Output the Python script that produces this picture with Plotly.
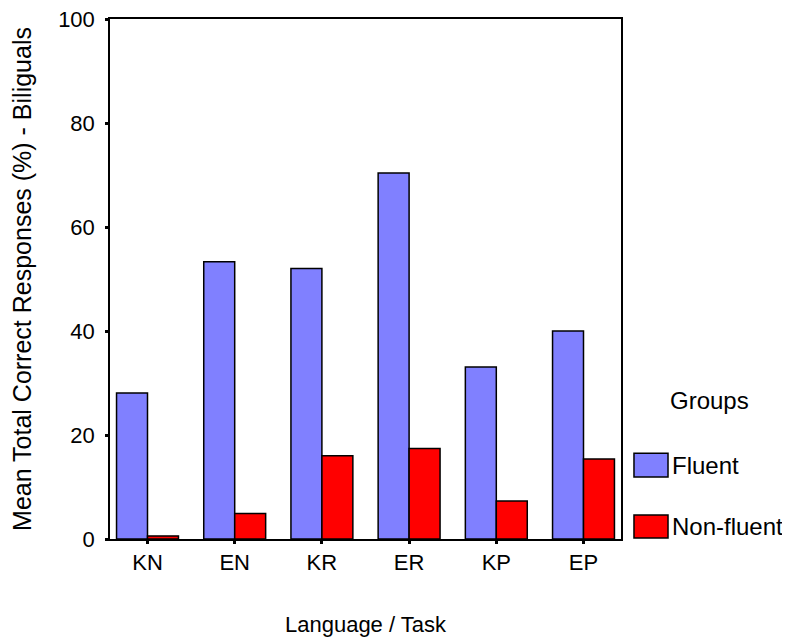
import plotly.graph_objects as go

categories = ["KN", "EN", "KR", "ER", "KP", "EP"]
fluent = [28.1, 53.3, 52.0, 70.4, 33.1, 40.0]
non_fluent = [0.6, 4.9, 16.0, 17.4, 7.3, 15.4]
series_names = ["Fluent", "Non-fluent"]
series_colors = ["#8080FF", "#FF0000"]
y_ticks = [0, 20, 40, 60, 80, 100]

FONT = "Liberation Sans, Arial, sans-serif"

fig = go.Figure()
for name, vals, col in zip(series_names, [fluent, non_fluent], series_colors):
    fig.add_trace(go.Bar(
        x=categories, y=vals, name=name,
        marker=dict(color=col, line=dict(color="black", width=1.5)),
        showlegend=False,
    ))

# custom legend (paper coords)
legend_rows = [(0.165, 0.119), (0.046, 0.002)]
for (y1, y0), name, col in zip(legend_rows, series_names, series_colors):
    fig.add_shape(type="rect", xref="paper", yref="paper",
                  x0=1.0254, x1=1.092, y0=y0, y1=y1,
                  fillcolor=col, line=dict(color="black", width=1.5))
    fig.add_annotation(xref="paper", yref="paper", x=1.096, y=(y0 + y1) / 2,
                       text=name, showarrow=False, xanchor="left", yanchor="middle",
                       font=dict(family=FONT, size=24, color="black"))
fig.add_annotation(xref="paper", yref="paper", x=1.174, y=0.267,
                   text="Groups", showarrow=False, xanchor="center", yanchor="middle",
                   font=dict(family=FONT, size=24, color="black"))

fig.update_layout(
    width=790, height=638,
    margin=dict(l=102, r=177, t=11, b=107),
    plot_bgcolor="white", paper_bgcolor="white",
    barmode="group", bargap=0.29, bargroupgap=0,
    font=dict(family=FONT, size=22, color="black"),
)
fig.update_xaxes(
    range=[-0.43, 5.43], automargin="bottom",
    showline=True, linecolor="black", linewidth=1.5, mirror=True,
    ticks="outside", ticklen=3, tickwidth=3, tickcolor="black",
    showgrid=False,
    title=dict(text="Language / Task", standoff=42, font=dict(size=22)),
    tickfont=dict(size=22),
)
fig.update_yaxes(
    range=[0, 100], tickvals=y_ticks, automargin="left",
    showline=True, linecolor="black", linewidth=1.5, mirror=True,
    ticks="outside", ticklen=3, tickwidth=3, tickcolor="black",
    showgrid=False, zeroline=False, ticklabelstandoff=6,
    ticklabeloverflow="allow",
    title=dict(text="Mean Total Correct Responses (%) - Biliguals", standoff=22, font=dict(size=25)),
    tickfont=dict(size=22),
)

fig.write_html("out.html")
